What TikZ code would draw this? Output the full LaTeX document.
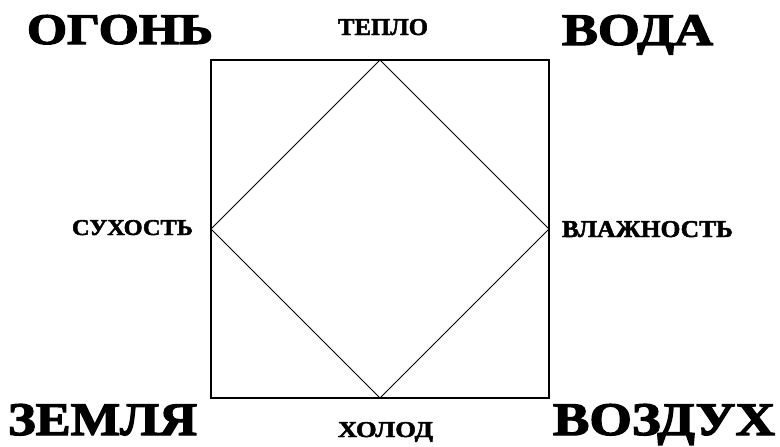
\documentclass[tikz,border=0pt]{standalone}
\usepackage{fontspec}
\setmainfont{Liberation Serif}
\newfontfamily\heavyfont{Liberation Serif Bold}[FakeBold=2.5]
\newfontfamily\smallheavy{Liberation Serif Bold}[FakeBold=2]
\usepackage{graphicx}
\begin{document}
\begin{tikzpicture}[x=1pt,y=-1pt,
  big/.style={inner sep=0pt, outer sep=0pt, font=\heavyfont},
  small/.style={inner sep=0pt, outer sep=0pt, font=\smallheavy},
  frame/.style={draw=black, line width=1.4pt},
  rhomb/.style={draw=black, line width=0.9pt}]
\useasboundingbox (0,0) rectangle (780,447);
% square corners
\coordinate (tl) at (211,60);
\coordinate (tr) at (549,60);
\coordinate (br) at (549,398);
\coordinate (bl) at (211,398);
% diamond vertices
\coordinate (dt) at (380,60);
\coordinate (dr) at (549,229);
\coordinate (db) at (380,398);
\coordinate (dl) at (211,229);
\draw[frame] (tl) -- (tr) -- (br) -- (bl) -- cycle;
\draw[rhomb] (dt) -- (dr) -- (db) -- (dl) -- cycle;
% big labels
\node[big, anchor=base west] (fire) at (27,44) {\resizebox{186pt}{29pt}{ОГОНЬ}};
\node[big, anchor=base west] (water) at (562,45) {\resizebox{151pt}{30pt}{ВОДА}};
\node[big, anchor=base west] (earth) at (8,435) {\resizebox{189pt}{31pt}{ЗЕМЛЯ}};
\node[big, anchor=base west] (air) at (553,435) {\resizebox{222pt}{31pt}{ВОЗДУХ}};
% small labels
\node[small, anchor=base west] (heat) at (338,35) {\resizebox{90pt}{16pt}{ТЕПЛО}};
\node[small, anchor=base west] (dry) at (72,235) {\resizebox{121pt}{15pt}{СУХОСТЬ}};
\node[small, anchor=base west] (wet) at (562,237) {\resizebox{171pt}{16pt}{ВЛАЖНОСТЬ}};
\node[small, anchor=base west] (cold) at (338,437) {\resizebox{95pt}{15pt}{ХОЛОД}};
\end{tikzpicture}
\end{document}
